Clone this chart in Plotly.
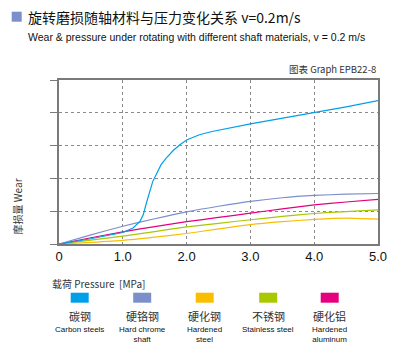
import plotly.graph_objects as go

# ---- data ----
x_carbon = [0, 0.5, 1.0, 1.16, 1.27, 1.32, 1.37, 1.42, 1.47, 1.53, 1.6, 1.68, 1.79, 1.89, 2.0, 2.2, 2.4, 3.0, 3.5, 4.0, 4.5, 5.0]
y_carbon = [0, 0.16, 0.35, 0.49, 0.69, 0.89, 1.25, 1.6, 1.91, 2.14, 2.42, 2.62, 2.85, 3.02, 3.17, 3.33, 3.43, 3.66, 3.83, 4.0, 4.18, 4.37]

x_common = [0, 0.5, 1.0, 1.5, 2.0, 2.5, 3.0, 3.5, 4.0, 4.5, 5.0]
y_chrome = [0, 0.28, 0.54, 0.77, 0.98, 1.15, 1.30, 1.41, 1.48, 1.52, 1.54]
y_hsteel = [0, 0.05, 0.11, 0.21, 0.32, 0.46, 0.59, 0.68, 0.75, 0.79, 0.76]
y_stain = [0, 0.12, 0.24, 0.38, 0.52, 0.63, 0.74, 0.84, 0.93, 0.99, 1.04]
y_alu = [0, 0.19, 0.37, 0.53, 0.68, 0.81, 0.94, 1.07, 1.19, 1.28, 1.36]

names_cn = ["碳钢", "硬铬钢", "硬化钢", "不锈钢", "硬化铝"]
names_en = ["Carbon steels", "Hard chrome<br>shaft", "Hardened<br>steel", "Stainless steel", "Hardened<br>aluminum"]
colors = ["#00a0e9", "#7b8fcb", "#fabe00", "#a9c800", "#e4007f"]

x_tickvals = [0, 1, 2, 3, 4, 5]
x_ticktext = ["0", "1.0", "2.0", "3.0", "4.0", "5.0"]

title_cn = "旋转磨损随轴材料与压力变化关系 v=0.2m/s"
title_en = "Wear & pressure under rotating with different shaft materials, v = 0.2 m/s"
graph_id = "图表 Graph EPB22-8"
y_title = "摩损量 Wear"
x_title = "载荷 Pressure  [MPa]"

CJK = "Noto Sans CJK SC, Liberation Sans, sans-serif"
SANS = "Liberation Sans, Arial, sans-serif"

fig = go.Figure()
series = [
    (x_common, y_hsteel, colors[2], "spline"),
    (x_common, y_stain, colors[3], "spline"),
    (x_common, y_alu, colors[4], "spline"),
    (x_common, y_chrome, colors[1], "spline"),
    (x_carbon, y_carbon, colors[0], "linear"),
]
for xs, ys, c, shp in series:
    line = dict(color=c, width=1.2, shape=shp)
    if shp == "spline":
        line["smoothing"] = 0.6
    fig.add_trace(go.Scatter(x=xs, y=ys, mode="lines", line=line,
                             showlegend=False, hoverinfo="skip"))

L, R, T, B = 59.3, 378.3, 80.3, 244.3
W, H = 400, 360

def px(xp):
    return (xp - L) / (R - L)

def py(yp):
    return (B - yp) / (B - T)

grid = dict(showgrid=True, gridcolor="#8a8a8a", gridwidth=1, griddash="dot")
fig.update_layout(
    width=W, height=H, autosize=False,
    margin=dict(l=L, r=W - R, t=T, b=H - B, autoexpand=False),
    paper_bgcolor="white", plot_bgcolor="white",
    xaxis=dict(range=[0, 5], tickvals=x_tickvals, ticktext=x_ticktext,
               tickfont=dict(family=SANS, size=13, color="#111"),
               showline=True, mirror=True, linecolor="#7a7a7a", linewidth=1.5,
               ticks="", zeroline=False, fixedrange=True, automargin=False, **grid),
    yaxis=dict(range=[0, 5], dtick=1, showticklabels=False,
               showline=True, mirror=True, linecolor="#7a7a7a", linewidth=1.5,
               ticks="outside", ticklen=7, tickcolor="#7a7a7a", tickwidth=1.2,
               zeroline=False, fixedrange=True, automargin=False, **grid),
)

ann = []
ann.append(dict(text=title_cn, x=px(26), y=py(17), xref="paper", yref="paper",
                xanchor="left", yanchor="middle", showarrow=False,
                font=dict(family=CJK, size=14, color="#111")))
ann.append(dict(text=title_en, x=px(26), y=py(37), xref="paper", yref="paper",
                xanchor="left", yanchor="middle", showarrow=False,
                font=dict(family=SANS, size=10.5, color="#111")))
ann.append(dict(text=graph_id, x=px(378), y=py(69), xref="paper", yref="paper",
                xanchor="right", yanchor="middle", showarrow=False,
                font=dict(family=CJK, size=9.5, color="#333")))
ann.append(dict(text=y_title, x=px(18), y=py(207), xref="paper", yref="paper",
                xanchor="center", yanchor="middle", showarrow=False, textangle=-90,
                font=dict(family=CJK, size=10, color="#333")))
ann.append(dict(text=x_title, x=px(50), y=py(284), xref="paper", yref="paper",
                xanchor="left", yanchor="middle", showarrow=False,
                font=dict(family=CJK, size=10, color="#333")))

shapes = [dict(type="rect", xref="paper", yref="paper",
               x0=px(12), x1=px(22), y0=py(12), y1=py(22),
               fillcolor="#7b8fcb", line=dict(width=0))]

centers = [80, 142.5, 205, 268.5, 330]
for cx, c, cn, en in zip(centers, colors, names_cn, names_en):
    shapes.append(dict(type="rect", xref="paper", yref="paper",
                       x0=px(cx - 9), x1=px(cx + 9), y0=py(293), y1=py(303),
                       fillcolor=c, line=dict(width=0)))
    ann.append(dict(text=cn, x=px(cx), y=py(316), xref="paper", yref="paper",
                    xanchor="center", yanchor="middle", showarrow=False,
                    font=dict(family=CJK, size=11, color="#333")))
    ann.append(dict(text=en, x=px(cx), y=py(323.5), xref="paper", yref="paper",
                    xanchor="center", yanchor="top", showarrow=False,
                    font=dict(family=SANS, size=8, color="#111")))

fig.update_layout(annotations=ann, shapes=shapes)
fig.write_html("out.html", config={"displayModeBar": False},
               post_script="document.body.style.margin='0';document.body.style.overflow='hidden';")
